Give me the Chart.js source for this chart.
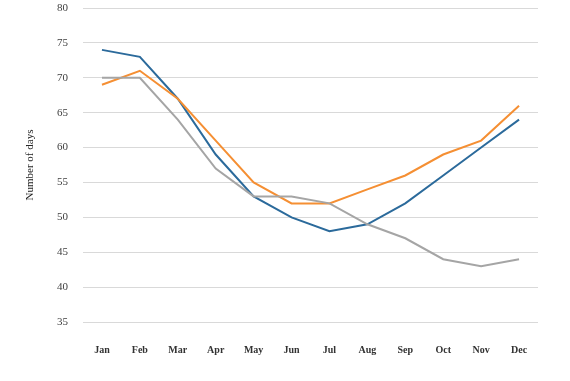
<!DOCTYPE html>
<html><head><meta charset="utf-8">
<script src="https://cdn.jsdelivr.net/npm/chart.js@4/dist/chart.umd.min.js"></script>
<style>html,body{margin:0;padding:0;background:#fff}#wrap{width:570px;height:381px}</style>
</head><body><div id="wrap"><canvas id="c" width="570" height="381"></canvas></div>
<script>
const months = ["Jan","Feb","Mar","Apr","May","Jun","Jul","Aug","Sep","Oct","Nov","Dec"];
const seriesBlue   = [74,73,67,59,53,50,48,49,52,56,60,64];
const seriesOrange = [69,71,67,61,55,52,52,54,56,59,61,66];
const seriesGray   = [70,70,64,57,53,53,52,49,47,44,43,44];
const yMin = 35, yMax = 80, yStep = 5;

const font = "'Liberation Serif','DejaVu Serif',serif";
new Chart(document.getElementById('c'), {
  type: 'line',
  data: {
    labels: months,
    datasets: [
      {data: seriesGray, borderColor: '#A5A5A5', borderWidth: 2, pointRadius: 0, tension: 0, fill: false},
      {data: seriesOrange, borderColor: '#F58F33', borderWidth: 2, pointRadius: 0, tension: 0, fill: false},
      {data: seriesBlue, borderColor: '#2B6A9B', borderWidth: 2, pointRadius: 0, tension: 0, fill: false}
    ]
  },
  options: {
    responsive: false,
    animation: false,
    layout: {padding: {left: 24, right: 32, top: 8, bottom: 0}},
    plugins: {legend: {display: false}, tooltip: {enabled: false}},
    scales: {
      x: {
        offset: true,
        grid: {display: false, drawTicks: false},
        border: {display: false},
        ticks: {padding: 22, color: '#333', font: {family: font, size: 10, weight: 'bold'}, maxRotation: 0},
        afterFit: s => { s.height = 381 - 322; s.paddingLeft = 0; s.paddingRight = 0; }
      },
      y: {
        min: yMin, max: yMax,
        grid: {color: '#D9D9D9', lineWidth: 1, drawTicks: false},
        border: {display: false},
        ticks: {stepSize: yStep, padding: 15, color: '#404040', font: {family: font, size: 11}},
        title: {display: true, text: 'Number of days', color: '#222', font: {family: font, size: 11}, padding: 0},
        afterFit: s => { s.width = 59; s.paddingTop = 0; s.paddingBottom = 0; }
      }
    }
  }
});
</script>
</body></html>
